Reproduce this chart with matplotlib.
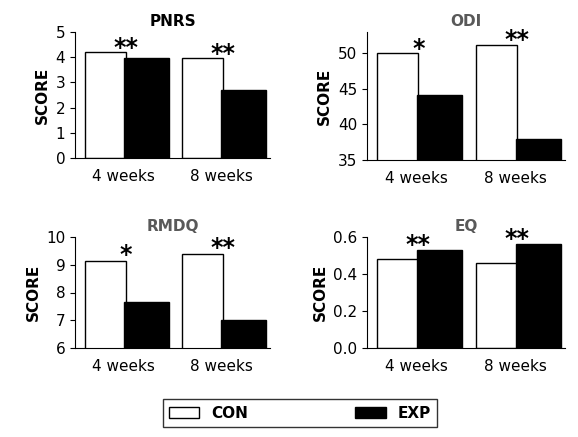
import matplotlib
matplotlib.use("Agg")
import matplotlib.pyplot as plt
from matplotlib.patches import Patch

groups = ["4 weeks", "8 weeks"]
titles = ["PNRS", "ODI", "RMDQ", "EQ"]
con = [[4.2, 3.95], [50.0, 51.2], [9.15, 9.4], [0.48, 0.46]]
exp = [[3.95, 2.7], [44.2, 38.0], [7.65, 7.0], [0.53, 0.56]]
stars = [["**", "**"], ["*", "**"], ["*", "**"], ["**", "**"]]
ylims = [(0, 5), (35, 53), (6, 10), (0, 0.6)]
yticks = [[0, 1, 2, 3, 4, 5], [35, 40, 45, 50], [6, 7, 8, 9, 10], [0.0, 0.2, 0.4, 0.6]]
yfmt = ["{:.0f}", "{:.0f}", "{:.0f}", "{:.1f}"]
title_colors = ["black", "#595959", "#595959", "#595959"]

fig = plt.figure(figsize=(5.78, 4.37), dpi=100)
rects = [(75, 32, 195, 126), (367, 32, 198, 128), (75, 237, 195, 111), (367, 237, 198, 111)]
W, H = 578, 437
for i, (x, y, w, h) in enumerate(rects):
    ax = fig.add_axes([x / W, 1 - (y + h) / H, w / W, h / H])
    xs = range(len(groups))
    ax.bar([k - 0.19 for k in xs], con[i], width=0.42, color="white", edgecolor="black", linewidth=1)
    ax.bar([k + 0.23 for k in xs], exp[i], width=0.46, color="black", edgecolor="black", linewidth=1)
    lo, hi = ylims[i]
    for k in xs:
        top = max(con[i][k], exp[i][k])
        ax.text(k + 0.02, top - (hi - lo) * 0.06, stars[i][k], ha="center", va="bottom", fontsize=17, fontweight="bold")
    ax.set_xlim(-0.5, 1.5)
    ax.set_ylim(lo, hi)
    ax.set_yticks(yticks[i])
    ax.set_yticklabels([yfmt[i].format(v) for v in yticks[i]], fontsize=11)
    ax.set_xticks(list(xs))
    ax.set_xticklabels(groups, fontsize=11)
    ax.tick_params(axis="x", length=0, pad=8)
    ax.spines["top"].set_visible(False)
    ax.spines["right"].set_visible(False)
    ax.set_ylabel("SCORE", fontsize=11, fontweight="bold")
    ax.set_title(titles[i], fontsize=11, fontweight="bold", color=title_colors[i], pad=4)

handles = [Patch(facecolor="white", edgecolor="black", label="CON"),
           Patch(facecolor="black", edgecolor="black", label="EXP")]
fig.legend(handles=handles, loc="center", bbox_to_anchor=(300 / W, 1 - 413 / H), ncol=2,
           frameon=True, fancybox=False, edgecolor="black", columnspacing=7,
           prop={"weight": "bold", "size": 11})
fig.savefig("out.png", dpi=100)
